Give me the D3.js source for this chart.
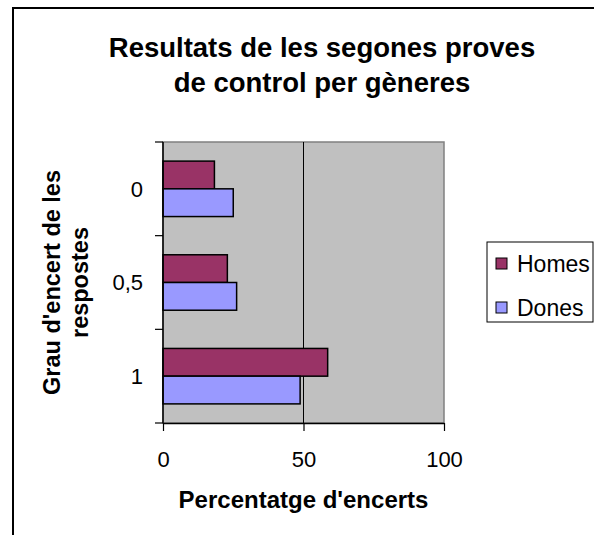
<!DOCTYPE html>
<html>
<head>
<meta charset="utf-8">
<script src="https://cdn.jsdelivr.net/npm/d3@7"></script>
<style>
  body { margin: 0; background: #fff; }
  svg { display: block; font-family: "Liberation Sans", Arial, sans-serif; }
</style>
</head>
<body>
<svg width="594" height="535"></svg>
<script>
var categories = ["0", "0,5", "1"];
var seriesNames = ["Homes", "Dones"];
var homes = [18.3, 22.9, 58.6];
var dones = [25.0, 26.2, 48.8];
var xTicks = [0, 50, 100];
var colors = ["#993366", "#9999FF"];

var rows = categories.map(function(c, i) {
  return { cat: c, values: [homes[i], dones[i]] };
});

var svg = d3.select("svg");

var plot = { left: 163, top: 142, right: 444, bottom: 423 };

var x = d3.scaleLinear()
    .domain([0, 100])
    .range([plot.left, plot.right]);

var y = d3.scaleBand()
    .domain(categories)
    .range([plot.top, plot.bottom])
    .paddingInner(0.408)
    .paddingOuter(0.204);

var ySub = d3.scaleBand()
    .domain(seriesNames)
    .range([0, y.bandwidth()]);

var color = d3.scaleOrdinal()
    .domain(seriesNames)
    .range(colors);

// chart area frame (runs off the right and bottom of the picture)
svg.append("rect")
    .attr("x", 13).attr("y", 8)
    .attr("width", 700).attr("height", 700)
    .attr("fill", "#fff")
    .attr("stroke", "#000")
    .attr("stroke-width", 2);

// title
var title = svg.append("text")
    .attr("text-anchor", "middle")
    .attr("font-size", 27.5)
    .attr("font-weight", "bold");
title.append("tspan").attr("x", 322).attr("y", 57).text("Resultats de les segones proves");
title.append("tspan").attr("x", 322).attr("y", 92).text("de control per gèneres");

// plot area
svg.append("rect")
    .attr("x", plot.left).attr("y", plot.top)
    .attr("width", plot.right - plot.left)
    .attr("height", plot.bottom - plot.top)
    .attr("fill", "#C0C0C0")
    .attr("stroke", "#808080")
    .attr("stroke-width", 1.5);

// gridlines
svg.append("g")
  .selectAll("line")
  .data(xTicks.slice(1, -1))
  .enter().append("line")
    .attr("x1", function(d) { return x(d); })
    .attr("x2", function(d) { return x(d); })
    .attr("y1", plot.top)
    .attr("y2", plot.bottom)
    .attr("stroke", "#000")
    .attr("stroke-width", 1);

// bars
var groups = svg.append("g")
  .selectAll("g")
  .data(rows)
  .enter().append("g")
    .attr("transform", function(d) { return "translate(0," + y(d.cat) + ")"; });

groups.selectAll("rect")
  .data(function(d) {
    return d.values.map(function(v, i) { return { key: seriesNames[i], value: v }; });
  })
  .enter().append("rect")
    .attr("x", x(0))
    .attr("y", function(d) { return ySub(d.key); })
    .attr("width", function(d) { return x(d.value) - x(0); })
    .attr("height", ySub.bandwidth())
    .attr("fill", function(d) { return color(d.key); })
    .attr("stroke", "#000")
    .attr("stroke-width", 1.5);

// x axis
var xAxis = svg.append("g")
    .attr("transform", "translate(0," + plot.bottom + ")")
    .call(d3.axisBottom(x).tickValues(xTicks).tickSize(8).tickPadding(20).tickSizeOuter(0));
xAxis.select(".domain").attr("stroke", "#000").attr("stroke-width", 1.5);
xAxis.selectAll(".tick line").attr("stroke", "#000").attr("stroke-width", 1.2);
xAxis.selectAll("text")
    .attr("font-family", "Liberation Sans, Arial, sans-serif")
    .attr("font-size", 22)
    .attr("fill", "#000");

// y axis: ticks sit between the categories
var yAxis = svg.append("g")
    .attr("transform", "translate(" + plot.left + ",0)");
yAxis.append("line")
    .attr("x1", 0).attr("x2", 0)
    .attr("y1", plot.top).attr("y2", plot.bottom)
    .attr("stroke", "#000").attr("stroke-width", 1.5);
var bounds = categories.map(function(c) { return y(c) - y.step() * y.paddingOuter(); });
bounds.push(plot.bottom);
yAxis.selectAll(".ytick")
  .data(bounds)
  .enter().append("line")
    .attr("x1", -8).attr("x2", 0)
    .attr("y1", function(d) { return d; })
    .attr("y2", function(d) { return d; })
    .attr("stroke", "#000").attr("stroke-width", 1.2);
yAxis.selectAll(".ylabel")
  .data(categories)
  .enter().append("text")
    .attr("x", -20)
    .attr("y", function(d) { return y(d) + y.bandwidth() / 2; })
    .attr("dy", "0.35em")
    .attr("text-anchor", "end")
    .attr("font-size", 22)
    .text(function(d) { return d; });

// axis titles
svg.append("text")
    .attr("x", (plot.left + plot.right) / 2)
    .attr("y", 508)
    .attr("text-anchor", "middle")
    .attr("font-size", 24)
    .attr("font-weight", "bold")
    .text("Percentatge d'encerts");

var yTitle = svg.append("text")
    .attr("transform", "translate(0," + (plot.top + plot.bottom) / 2 + ") rotate(-90)")
    .attr("text-anchor", "middle")
    .attr("font-size", 23.5)
    .attr("font-weight", "bold");
yTitle.append("tspan").attr("x", 0).attr("y", 60).text("Grau d'encert de les");
yTitle.append("tspan").attr("x", 0).attr("y", 88).text("respostes");

// legend
var legend = svg.append("g")
    .attr("transform", "translate(487,242)");
legend.append("rect")
    .attr("width", 106).attr("height", 80)
    .attr("fill", "#fff")
    .attr("stroke", "#000")
    .attr("stroke-width", 1);
var item = legend.selectAll(".item")
  .data(seriesNames)
  .enter().append("g")
    .attr("transform", function(d, i) { return "translate(9," + (16 + i * 44) + ")"; });
item.append("rect")
    .attr("width", 11).attr("height", 11)
    .attr("fill", function(d) { return color(d); })
    .attr("stroke", "#000")
    .attr("stroke-width", 1);
item.append("text")
    .attr("x", 21)
    .attr("y", 5.5)
    .attr("dy", "0.35em")
    .attr("font-size", 23)
    .text(function(d) { return d; });
</script>
</body>
</html>
